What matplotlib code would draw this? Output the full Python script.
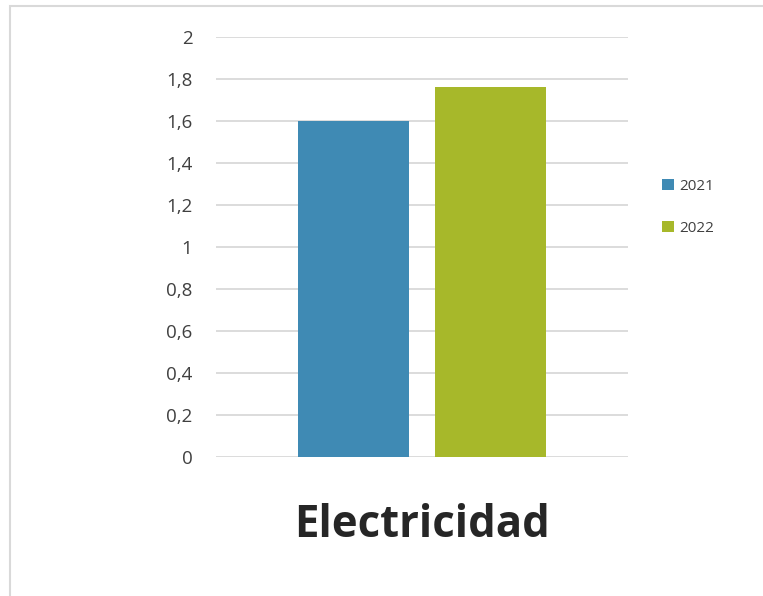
import numpy as np
import matplotlib.pyplot as plt
from matplotlib.patches import Rectangle

# Data
category = "Electricidad"
years = ["2021", "2022"]
values = [1.6, 1.76]
colors = ["#3f8ab4", "#a7b82a"]
yticks = [0, 0.2, 0.4, 0.6, 0.8, 1, 1.2, 1.4, 1.6, 1.8, 2]

plt.rcParams["font.family"] = ["Open Sans", "DejaVu Sans"]

W, H = 763, 596
fig = plt.figure(figsize=(W / 100, H / 100), dpi=100)

# light frame around the chart area
fig.patches.append(Rectangle((10 / W, -0.1), 1.2, 1 - 6 / H + 0.1, transform=fig.transFigure,
                             fill=False, edgecolor="#d9d9d9", linewidth=1.5))

ax = fig.add_axes([216 / W, 1 - 457 / H, (628 - 216) / W, (457 - 37) / H])

width = 0.269
offsets = [-0.1657, 0.1657]
for year, val, col, off in zip(years, values, colors, offsets):
    ax.bar(off, val, width=width, color=col, label=year, zorder=2)

ax.set_xlim(-0.5, 0.5)
ax.set_ylim(0, 2)
ax.set_yticks(yticks)
ax.set_yticklabels([f"{t:g}".replace(".", ",") for t in yticks])
ax.set_xticks([])
ax.grid(axis="y", color="#d9d9d9", linewidth=1.3, zorder=0)
for s in ax.spines.values():
    s.set_visible(False)
ax.tick_params(axis="y", length=0, pad=17, labelsize=13.5, labelcolor="#404040")

ax.text(0.0, -0.162, category, transform=ax.get_xaxis_transform(), ha="center", va="center",
        fontsize=31.5, fontweight="bold", color="#262626")

ax.legend(loc="upper left", bbox_to_anchor=(648 / W, 1 - 165 / H), bbox_transform=fig.transFigure,
          frameon=False, fontsize=11, labelcolor="#404040", handlelength=0.8, handleheight=0.8,
          handletextpad=0.35, labelspacing=1.75)

fig.savefig("out.png", dpi=100)
